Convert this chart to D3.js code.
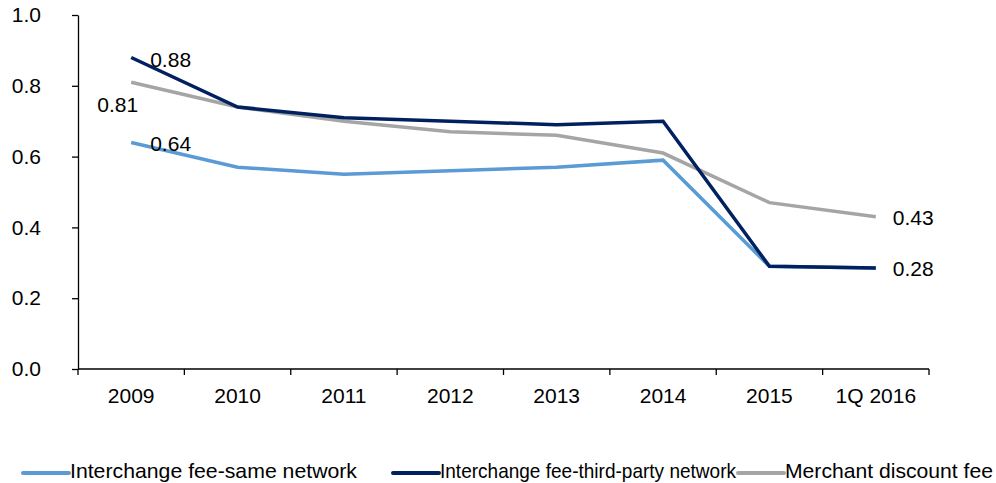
<!DOCTYPE html>
<html>
<head>
  <meta http-equiv="Content-Type" content="text/html; charset=UTF-8">
  <style>
    body { margin: 0; background: #fff; }
    svg { font-family: Arial, "Liberation Sans", sans-serif; }
    .axis path, .axis line { stroke: #000; stroke-width: 1.3px; }
    .axis text { font-size: 21px; fill: #000; }
    .line { fill: none; stroke-width: 3.5px; stroke-linejoin: miter; }
    .lbl, .legend text { font-size: 21px; fill: #000; }
  </style>
</head>
<body>
  <svg width="996" height="483"></svg>
  <script src="https://cdn.jsdelivr.net/npm/d3@7"></script>
  <script>
    var categories = ["2009", "2010", "2011", "2012", "2013", "2014", "2015", "1Q 2016"];
    var sameNetwork = [0.64, 0.57, 0.55, 0.56, 0.57, 0.59, 0.29, 0.285];
    var thirdParty = [0.88, 0.74, 0.71, 0.70, 0.69, 0.70, 0.29, 0.285];
    var merchantFee = [0.81, 0.74, 0.70, 0.67, 0.66, 0.61, 0.47, 0.43];
    var yTicks = [0, 0.2, 0.4, 0.6, 0.8, 1.0];

    var series = [
      {name: "Interchange fee-same network", values: sameNetwork, color: "#5b9bd5"},
      {name: "Merchant discount fee", values: merchantFee, color: "#a5a5a5"},
      {name: "Interchange fee-third-party network", values: thirdParty, color: "#002060"}
    ];
    var legendOrder = [series[0], series[2], series[1]];

    var svg = d3.select("svg"),
        margin = {top: 15, left: 78},
        width = 851,
        height = 354;

    var x = d3.scaleBand().domain(categories).range([0, width]),
        y = d3.scaleLinear().domain([0, 1]).range([height, 0]);

    var g = svg.append("g")
        .attr("transform", "translate(" + margin.left + "," + margin.top + ")");

    var xAxis = g.append("g")
        .attr("class", "axis")
        .attr("transform", "translate(0," + height + ")")
        .call(d3.axisBottom(x).tickSize(0).tickPadding(19));
    xAxis.select(".domain").attr("d", "M0,0H" + width);
    xAxis.selectAll(".tick text").attr("dy", "0.71em");
    // boundary ticks between categories
    xAxis.selectAll(".bt")
        .data(d3.range(categories.length + 1))
      .enter().append("line")
        .attr("x1", function(i) { return i * x.step(); })
        .attr("x2", function(i) { return i * x.step(); })
        .attr("y1", 0).attr("y2", 6)
        .attr("stroke", "#000").attr("stroke-width", 1.3);

    var yAxis = g.append("g")
        .attr("class", "axis")
        .call(d3.axisLeft(y).tickValues(yTicks).tickFormat(d3.format(".1f")).tickSize(6).tickSizeOuter(0));
    yAxis.selectAll(".tick text").attr("x", -37).attr("text-anchor", "end");

    var line = d3.line()
        .x(function(d, i) { return x(categories[i]) + x.bandwidth() / 2; })
        .y(function(d) { return y(d); });

    g.selectAll(".line")
        .data(series)
      .enter().append("path")
        .attr("class", "line")
        .attr("stroke", function(d) { return d.color; })
        .attr("d", function(d) { return line(d.values); });

    var cx = function(i) { return x(categories[i]) + x.bandwidth() / 2; };
    var last = categories.length - 1;
    var labels = [
      {text: "0.88", i: 0, v: thirdParty[0], dx: 19, dy: 2, anchor: "start"},
      {text: "0.81", i: 0, v: merchantFee[0], dx: 7, dy: 22, anchor: "end"},
      {text: "0.64", i: 0, v: sameNetwork[0], dx: 19, dy: 1, anchor: "start"},
      {text: "0.43", i: last, v: merchantFee[last], dx: 17, dy: 1, anchor: "start"},
      {text: "0.28", i: last, v: thirdParty[last], dx: 17, dy: 1, anchor: "start"}
    ];
    g.selectAll(".lbl")
        .data(labels)
      .enter().append("text")
        .attr("class", "lbl")
        .attr("x", function(d) { return cx(d.i) + d.dx; })
        .attr("y", function(d) { return y(d.v) + d.dy; })
        .attr("dy", "0.35em")
        .attr("text-anchor", function(d) { return d.anchor; })
        .text(function(d) { return d.text; });

    var legendX = [23, 393, 738],
        legendTextWidth = [287, 296, 208];
    var legend = svg.append("g").attr("class", "legend")
        .selectAll("g")
        .data(legendOrder)
      .enter().append("g")
        .attr("transform", function(d, i) { return "translate(" + legendX[i] + ",473)"; });
    legend.append("line")
        .attr("x1", 0).attr("x2", 46)
        .attr("stroke", function(d) { return d.color; })
        .attr("stroke-width", 4)
        .attr("stroke-linecap", "round");
    legend.append("text")
        .attr("x", 47)
        .attr("y", 5)
        .attr("textLength", function(d, i) { return legendTextWidth[i]; })
        .attr("lengthAdjust", "spacingAndGlyphs")
        .text(function(d) { return d.name; });
  </script>
</body>
</html>
